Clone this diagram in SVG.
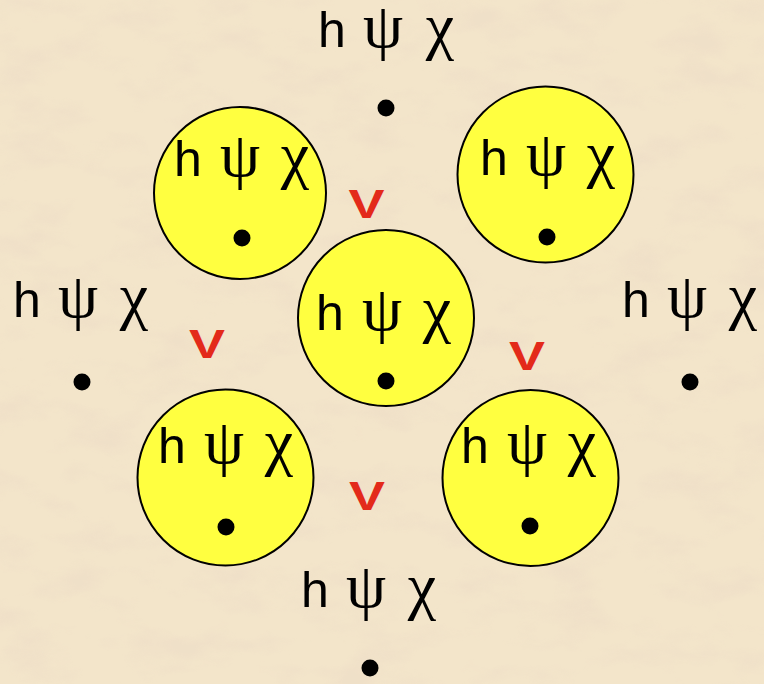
<svg xmlns="http://www.w3.org/2000/svg" width="764" height="684" viewBox="0 0 764 684">
<defs>
<filter id="paper" x="0" y="0" width="100%" height="100%">
<feTurbulence type="fractalNoise" baseFrequency="0.015 0.03" numOctaves="4" seed="7" result="n"/>
<feColorMatrix in="n" type="matrix" values="0 0 0 0 0.85  0 0 0 0 0.72  0 0 0 0 0.57  3 0 0 0 -1.4"/>
</filter>
<style>
.node{fill:#ffff40;stroke:#000;stroke-width:2}
.lbl{font-size:50px;fill:#000}
.h{font-family:"Liberation Sans",Arial,sans-serif}
.g{font-family:"Liberation Serif","Times New Roman",serif;font-size:64px}
.dot{fill:#000}
.v{font-family:"Liberation Sans",Arial,sans-serif;font-weight:bold;font-size:40px;fill:#e32a1a;text-anchor:middle}
</style>
</defs>
<rect width="764" height="684" fill="#f3e5ca"/>
<rect width="764" height="684" filter="url(#paper)" opacity="0.6"/>
<g id="connectors"></g>
<g id="label-top">
<text class="lbl" y="47" text-anchor="middle"><tspan class="h" x="332">h</tspan><tspan class="g" x="383">ψ</tspan><tspan class="g" x="440">χ</tspan></text>
<circle class="dot" cx="386" cy="108" r="8.5"/>
</g>
<g id="label-left">
<text class="lbl" y="317" text-anchor="middle"><tspan class="h" x="27">h</tspan><tspan class="g" x="78">ψ</tspan><tspan class="g" x="134">χ</tspan></text>
<circle class="dot" cx="82" cy="382" r="8.5"/>
</g>
<g id="label-right">
<text class="lbl" y="317" text-anchor="middle"><tspan class="h" x="636">h</tspan><tspan class="g" x="687">ψ</tspan><tspan class="g" x="743">χ</tspan></text>
<circle class="dot" cx="690" cy="382" r="8.5"/>
</g>
<g id="label-bottom">
<text class="lbl" y="607" text-anchor="middle"><tspan class="h" x="315">h</tspan><tspan class="g" x="366">ψ</tspan><tspan class="g" x="422">χ</tspan></text>
<circle class="dot" cx="370" cy="668" r="8.5"/>
</g>
<g id="circle-tl">
<circle class="node" cx="240" cy="193" r="86"/>
<text class="lbl" y="176" text-anchor="middle"><tspan class="h" x="188">h</tspan><tspan class="g" x="240">ψ</tspan><tspan class="g" x="295">χ</tspan></text>
<circle class="dot" cx="242" cy="238" r="8.5"/>
</g>
<g id="circle-tr">
<circle class="node" cx="545.5" cy="174.5" r="88"/>
<text class="lbl" y="175" text-anchor="middle"><tspan class="h" x="494">h</tspan><tspan class="g" x="546">ψ</tspan><tspan class="g" x="601">χ</tspan></text>
<circle class="dot" cx="547" cy="237" r="8.5"/>
</g>
<g id="circle-c">
<circle class="node" cx="386" cy="318" r="88"/>
<text class="lbl" y="330" text-anchor="middle"><tspan class="h" x="330">h</tspan><tspan class="g" x="382">ψ</tspan><tspan class="g" x="437">χ</tspan></text>
<circle class="dot" cx="386" cy="381" r="8.5"/>
</g>
<g id="circle-bl">
<circle class="node" cx="225.5" cy="477.5" r="88"/>
<text class="lbl" y="463" text-anchor="middle"><tspan class="h" x="172">h</tspan><tspan class="g" x="224">ψ</tspan><tspan class="g" x="279">χ</tspan></text>
<circle class="dot" cx="226" cy="527" r="8.5"/>
</g>
<g id="circle-br">
<circle class="node" cx="530.5" cy="478" r="88"/>
<text class="lbl" y="463" text-anchor="middle"><tspan class="h" x="475">h</tspan><tspan class="g" x="527">ψ</tspan><tspan class="g" x="582">χ</tspan></text>
<circle class="dot" cx="530" cy="526" r="8.5"/>
</g>
<g id="v-marks">
<text class="v" transform="translate(366.5 218) scale(1.35 1)">V</text>
<text class="v" transform="translate(207 358) scale(1.35 1)">V</text>
<text class="v" transform="translate(527 370) scale(1.35 1)">V</text>
<text class="v" transform="translate(367 510) scale(1.35 1)">V</text>
</g>
</svg>
